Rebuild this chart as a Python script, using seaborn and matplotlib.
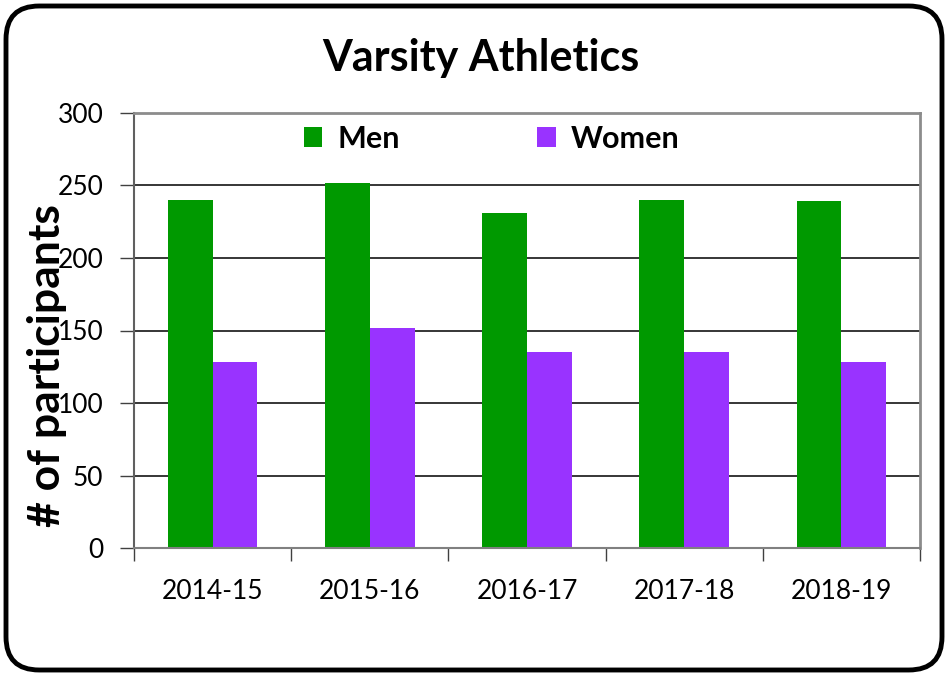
import matplotlib
matplotlib.use("Agg")
import matplotlib.pyplot as plt
import seaborn as sns
import pandas as pd
from matplotlib.patches import FancyBboxPatch

seasons = ["2014-15", "2015-16", "2016-17", "2017-18", "2018-19"]
men = [240, 252, 231, 240, 239]
women = [128, 152, 135, 135, 128]
series_names = ["Men", "Women"]
colors = ["#009900", "#9933FF"]
title = "Varsity Athletics"
ylabel = "# of participants"
yticks = [0, 50, 100, 150, 200, 250, 300]

df = pd.DataFrame({
    "Season": seasons * 2,
    "Participants": men + women,
    "Group": [series_names[0]] * len(seasons) + [series_names[1]] * len(seasons),
})

sns.set_theme(style="white")
plt.rcParams["font.family"] = ["Lato", "DejaVu Sans"]
plt.rcParams["text.color"] = "black"
plt.rcParams["xtick.color"] = "black"
plt.rcParams["ytick.color"] = "black"

fig = plt.figure(figsize=(9.48, 6.75), dpi=100)
fig.patch.set_facecolor("white")
ax = fig.add_axes([134 / 948, 1 - 548 / 675, (920 - 134) / 948, (548 - 113) / 675])

sns.barplot(data=df, x="Season", y="Participants", hue="Group",
            palette=colors, width=0.57, gap=0, ax=ax, saturation=1,
            edgecolor="none", linewidth=0)

ax.set_ylim(0, 300)
ax.set_xlim(-0.5, len(seasons) - 0.5)
ax.set_yticks(yticks)
ax.set_yticklabels([str(t) for t in yticks], fontsize=19, color="black")
ax.set_xticks(range(len(seasons)))
ax.set_xticklabels(seasons, fontsize=19, color="black")
ax.set_xticks([i - 0.5 for i in range(len(seasons) + 1)], minor=True)
ax.tick_params(axis="x", which="major", length=0, pad=22)
ax.tick_params(axis="x", which="minor", length=9, width=1, color="#404040", direction="out", bottom=True)
ax.tick_params(axis="y", which="major", length=10, width=1, color="#404040", direction="out", left=True, pad=12)
ax.set_xlabel("")
ax.set_ylabel("")
ax.grid(axis="y", color="black", linewidth=1.1)
ax.set_axisbelow(True)
for s in ["top", "right"]:
    ax.spines[s].set_color("#8c8c8c")
    ax.spines[s].set_linewidth(2)
ax.spines["left"].set_color("#606060")
ax.spines["left"].set_linewidth(1.5)
ax.spines["bottom"].set_color("#808080")
ax.spines["bottom"].set_linewidth(1.5)

leg = ax.legend(loc="upper left", bbox_to_anchor=(0.181, 1.036), ncol=2, frameon=False,
                prop={"weight": "bold", "size": 22}, handlelength=0.6, handleheight=0.6,
                columnspacing=4.5, handletextpad=0.5)

fig.text(481 / 948, 1 - 58 / 675, title, ha="center", va="center",
         fontsize=31, fontweight="bold", color="black")
fig.text(47 / 948, 1 - 366 / 675, ylabel, ha="center", va="center",
         rotation=90, fontsize=32, fontweight="bold", color="black")

border = FancyBboxPatch((6 / 948, 5 / 675), 936 / 948, 664 / 675,
                        boxstyle="round,pad=0,rounding_size=0.035",
                        transform=fig.transFigure, facecolor="none",
                        edgecolor="black", linewidth=3.5, mutation_aspect=948 / 675)
fig.patches.append(border)

fig.savefig("out.png", dpi=100, facecolor="white")
